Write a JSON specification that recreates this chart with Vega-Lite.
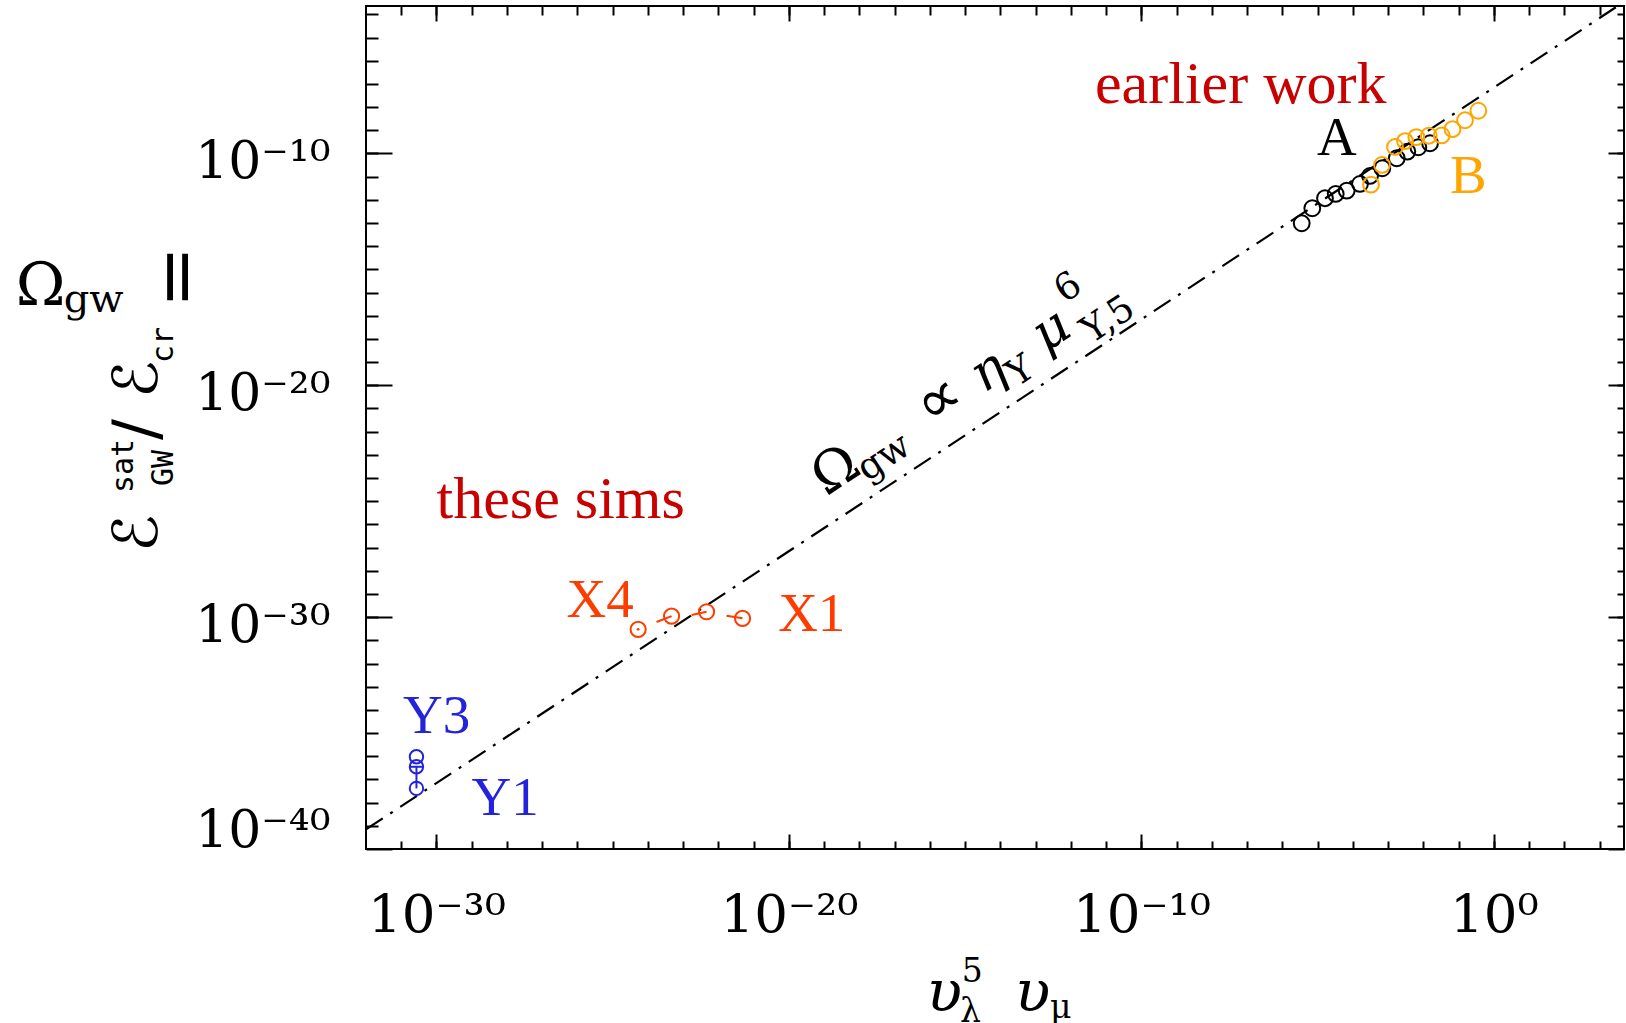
{
  "$schema": "https://vega.github.io/schema/vega-lite/v6.json",
  "width": 1258,
  "height": 843,
  "autosize": {"type": "none"},
  "padding": {"left": 366, "top": 6, "right": 2, "bottom": 174},
  "background": "white",
  "config": {"view": {"stroke": "black", "strokeWidth": 2}},
  "datasets": {
    "line": [{"x": 1e-32, "y": 7.0e-40}, {"x": 4898, "y": 3.43e-4}],
    "A": [
      {"x": 3.52e-6, "y": 9.75e-14}, {"x": 7.03e-6, "y": 4.33e-13}, {"x": 1.61e-5, "y": 1.17e-12},
      {"x": 3.24e-5, "y": 1.79e-12}, {"x": 6.65e-5, "y": 2.48e-12}, {"x": 1.58e-4, "y": 4.83e-12},
      {"x": 3.05e-4, "y": 1.07e-11}, {"x": 6.81e-4, "y": 2.30e-11}, {"x": 1.75e-3, "y": 6.21e-11},
      {"x": 3.49e-3, "y": 1.20e-10}, {"x": 7.16e-3, "y": 1.85e-10}, {"x": 1.54e-2, "y": 2.75e-10}
    ],
    "B": [
      {"x": 3.25e-4, "y": 4.51e-12}, {"x": 6.68e-4, "y": 3.19e-11}, {"x": 1.56e-3, "y": 1.91e-10},
      {"x": 3.01e-3, "y": 3.40e-10}, {"x": 6.28e-3, "y": 5.05e-10}, {"x": 1.42e-2, "y": 5.81e-10},
      {"x": 3.30e-2, "y": 5.98e-10}, {"x": 6.68e-2, "y": 1.12e-9}, {"x": 0.151, "y": 2.70e-9},
      {"x": 0.361, "y": 6.95e-9}
    ],
    "X": [
      {"name": "X4", "x": 5.26e-25, "y": 2.98e-31},
      {"name": "X3", "x": 4.67e-24, "y": 1.11e-30},
      {"name": "X2", "x": 4.59e-23, "y": 1.71e-30},
      {"name": "X1", "x": 4.82e-22, "y": 8.87e-31}
    ],
    "Xseg": [
      {"x": 1.75e-24, "y": 6.15e-31, "x2": 4.67e-24, "y2": 1.11e-30},
      {"x": 1.72e-23, "y": 1.23e-30, "x2": 4.59e-23, "y2": 1.71e-30},
      {"x": 1.69e-22, "y": 1.15e-30, "x2": 4.82e-22, "y2": 8.87e-31}
    ],
    "Y": [
      {"name": "Y3", "x": 2.70e-31, "y": 9.51e-37},
      {"name": "Y2", "x": 2.70e-31, "y": 3.52e-37},
      {"name": "Y1", "x": 2.70e-31, "y": 4.11e-38}
    ],
    "Yseg": [
      {"x": 2.70e-31, "y": 3.52e-37, "x2": 2.70e-31, "y2": 4.11e-38},
      {"x": 1.75e-31, "y": 3.52e-37, "x2": 4.17e-31, "y2": 3.52e-37}
    ],
    "txt": [
      {"t": "earlier work", "x": 4.80e-12, "y": 1.44e-8, "g": "note"},
      {"t": "these sims", "x": 1e-30, "y": 1.83e-26, "g": "note"},
      {"t": "A", "x": 9.55e-6, "y": 8.61e-11, "g": "tag", "c": "A"},
      {"t": "B", "x": 0.0568, "y": 1.92e-12, "g": "tag", "c": "B"},
      {"t": "X4", "x": 4.89e-27, "y": 1.04e-30, "g": "tag", "c": "X"},
      {"t": "X1", "x": 4.93e-21, "y": 2.51e-31, "g": "tag", "c": "X"},
      {"t": "Y3", "x": 1.13e-31, "y": 9.70e-36, "g": "tag", "c": "Y"},
      {"t": "Y1", "x": 9.84e-30, "y": 2.90e-39, "g": "tag", "c": "Y"},
      {"t": "Ω", "x": 1.15e-19, "y": 1.56e-25, "g": "eqBig"},
      {"t": "∝", "x": 1.06e-16, "y": 1.43e-22, "g": "eqSym"},
      {"t": "η", "x": 3.33e-15, "y": 4.43e-21, "g": "eqIt"},
      {"t": "μ", "x": 1.89e-13, "y": 2.50e-19, "g": "eqIt"},
      {"t": "gw", "x": 1.63e-18, "y": 6.73e-25, "g": "eqSmall"},
      {"t": "Y", "x": 2.88e-14, "y": 8.11e-21, "g": "eqSmall"},
      {"t": "6", "x": 6.53e-13, "y": 3.41e-17, "g": "eqSmall"},
      {"t": "Y,5", "x": 3.78e-12, "y": 5.87e-19, "g": "eqSmall"},
      {"t": "Ω", "x": 1.15e-42, "y": 2.91e-17, "g": "ytBig"},
      {"t": "=", "x": 2.05e-37, "y": 2.16e-17, "g": "ytEq"},
      {"t": "gw", "x": 2.65e-41, "y": 1.45e-17, "g": "ytSub"},
      {"t": "ℰ", "x": 1.16e-38, "y": 6.43e-28, "g": "ytE"},
      {"t": "/", "x": 1.16e-38, "y": 4.37e-23, "g": "ytE"},
      {"t": "ℰ", "x": 1.16e-38, "y": 2.83e-21, "g": "ytE"},
      {"t": "sat", "x": 2.41e-39, "y": 2.26e-25, "g": "ytM"},
      {"t": "GW", "x": 3.29e-38, "y": 4.53e-25, "g": "ytM"},
      {"t": "cr", "x": 3.29e-38, "y": 9.16e-20, "g": "ytM"},
      {"t": "υ", "x": 8.04e-17, "y": 1.01e-47, "g": "xtU"},
      {"t": "υ", "x": 2.57e-14, "y": 1.01e-47, "g": "xtU"},
      {"t": "5", "x": 7.91e-16, "y": 1.81e-46, "g": "xtS"},
      {"t": "λ", "x": 7.08e-16, "y": 3.40e-48, "g": "xtS"},
      {"t": "μ", "x": 2.54e-13, "y": 5.06e-48, "g": "xtS"}
    ]
  },
  "resolve": {"axis": {"x": "independent", "y": "independent"}},
  "layer": [
    {
      "data": {"name": "line"},
      "mark": {"type": "line", "color": "black", "strokeWidth": 2.2, "strokeDash": [20, 9, 3, 9], "clip": true},
      "encoding": {
        "x": {"field": "x", "type": "quantitative", "scale": {"type": "log", "domain": [1e-32, 4898], "nice": false},
          "axis": {"orient": "bottom", "values": [1e-30, 1e-20, 1e-10, 1], "tickSize": -15, "tickWidth": 2, "tickColor": "black", "domain": false, "grid": false, "title": null,
            "labelExpr": "datum.value < 1e-25 ? '10⁻³⁰' : datum.value < 1e-15 ? '10⁻²⁰' : datum.value < 1e-5 ? '10⁻¹⁰' : '10⁰'",
            "labelFont": "DejaVu Serif", "labelFontSize": 53, "labelColor": "black", "labelPadding": 55, "labelFlush": false, "labelOverlap": false, "labelBound": false}},
        "y": {"field": "y", "type": "quantitative", "scale": {"type": "log", "domain": [1e-40, 2.29e-4], "nice": false},
          "axis": {"orient": "left", "values": [1e-40, 1e-30, 1e-20, 1e-10], "tickSize": -26, "tickWidth": 2, "tickColor": "black", "domain": false, "grid": false, "title": null,
            "labelExpr": "datum.value < 1e-35 ? '10⁻⁴⁰' : datum.value < 1e-25 ? '10⁻³⁰' : datum.value < 1e-15 ? '10⁻²⁰' : '10⁻¹⁰'",
            "labelFont": "DejaVu Serif", "labelFontSize": 52, "labelColor": "black", "labelPadding": 62, "labelOffset": 8, "labelFlush": true, "labelOverlap": false, "labelBound": false}}
      }
    },
    {
      "data": {"name": "A"},
      "mark": {"type": "point", "shape": "circle", "filled": false, "color": "black", "size": 250, "strokeWidth": 2, "opacity": 1},
      "encoding": {
        "x": {"field": "x", "type": "quantitative", "scale": {"type": "log", "domain": [1e-32, 4898], "nice": false},
          "axis": {"orient": "bottom", "values": [1e-31, 1e-30, 1e-29, 1e-28, 1e-27, 1e-26, 1e-25, 1e-24, 1e-23, 1e-22, 1e-21, 1e-20, 1e-19, 1e-18, 1e-17, 1e-16, 1e-15, 1e-14, 1e-13, 1e-12, 1e-11, 1e-10, 1e-9, 1e-8, 1e-7, 1e-6, 1e-5, 1e-4, 0.001, 0.01, 0.1, 1, 10, 100, 1000],
            "tickSize": -8, "tickWidth": 2, "tickColor": "black", "labels": false, "domain": false, "grid": false, "title": null}},
        "y": {"field": "y", "type": "quantitative", "scale": {"type": "log", "domain": [1e-40, 2.29e-4], "nice": false},
          "axis": {"orient": "left", "values": [1e-39, 1e-38, 1e-37, 1e-36, 1e-35, 1e-34, 1e-33, 1e-32, 1e-31, 1e-30, 1e-29, 1e-28, 1e-27, 1e-26, 1e-25, 1e-24, 1e-23, 1e-22, 1e-21, 1e-20, 1e-19, 1e-18, 1e-17, 1e-16, 1e-15, 1e-14, 1e-13, 1e-12, 1e-11, 1e-10, 1e-9, 1e-8, 1e-7, 1e-6, 1e-5, 1e-4],
            "tickSize": -12, "tickWidth": 2, "tickColor": "black", "labels": false, "domain": false, "grid": false, "title": null}}
      }
    },
    {
      "data": {"name": "B"},
      "mark": {"type": "point", "shape": "circle", "filled": false, "color": "#ffa500", "size": 250, "strokeWidth": 2, "opacity": 1},
      "encoding": {
        "x": {"field": "x", "type": "quantitative", "scale": {"type": "log", "domain": [1e-32, 4898], "nice": false},
          "axis": {"orient": "top", "values": [1e-30, 1e-20, 1e-10, 1], "tickSize": -15, "tickWidth": 2, "tickColor": "black", "labels": false, "domain": false, "grid": false, "title": null}},
        "y": {"field": "y", "type": "quantitative", "scale": {"type": "log", "domain": [1e-40, 2.29e-4], "nice": false},
          "axis": {"orient": "right", "values": [1e-40, 1e-30, 1e-20, 1e-10], "tickSize": -16, "tickWidth": 2, "tickColor": "black", "labels": false, "domain": false, "grid": false, "title": null}}
      }
    },
    {
      "data": {"name": "X"},
      "mark": {"type": "point", "shape": "circle", "filled": false, "color": "#ff3c00", "size": 230, "strokeWidth": 2, "opacity": 1},
      "encoding": {
        "x": {"field": "x", "type": "quantitative", "scale": {"type": "log", "domain": [1e-32, 4898], "nice": false},
          "axis": {"orient": "top", "values": [1e-31, 1e-30, 1e-29, 1e-28, 1e-27, 1e-26, 1e-25, 1e-24, 1e-23, 1e-22, 1e-21, 1e-20, 1e-19, 1e-18, 1e-17, 1e-16, 1e-15, 1e-14, 1e-13, 1e-12, 1e-11, 1e-10, 1e-9, 1e-8, 1e-7, 1e-6, 1e-5, 1e-4, 0.001, 0.01, 0.1, 1, 10, 100, 1000],
            "tickSize": -9, "tickWidth": 2, "tickColor": "black", "labels": false, "domain": false, "grid": false, "title": null}},
        "y": {"field": "y", "type": "quantitative", "scale": {"type": "log", "domain": [1e-40, 2.29e-4], "nice": false},
          "axis": {"orient": "right", "values": [1e-39, 1e-38, 1e-37, 1e-36, 1e-35, 1e-34, 1e-33, 1e-32, 1e-31, 1e-30, 1e-29, 1e-28, 1e-27, 1e-26, 1e-25, 1e-24, 1e-23, 1e-22, 1e-21, 1e-20, 1e-19, 1e-18, 1e-17, 1e-16, 1e-15, 1e-14, 1e-13, 1e-12, 1e-11, 1e-10, 1e-9, 1e-8, 1e-7, 1e-6, 1e-5, 1e-4],
            "tickSize": -7, "tickWidth": 2, "tickColor": "black", "labels": false, "domain": false, "grid": false, "title": null}}
      }
    },
    {
      "data": {"name": "X"},
      "transform": [{"filter": "datum.name === 'X4'"}],
      "mark": {"type": "point", "shape": "circle", "filled": true, "color": "#ff3c00", "size": 8, "opacity": 1},
      "encoding": {
        "x": {"field": "x", "type": "quantitative", "scale": {"type": "log", "domain": [1e-32, 4898], "nice": false}, "axis": null},
        "y": {"field": "y", "type": "quantitative", "scale": {"type": "log", "domain": [1e-40, 2.29e-4], "nice": false}, "axis": null}
      }
    },
    {
      "data": {"name": "Xseg"},
      "mark": {"type": "rule", "color": "#ff3c00", "strokeWidth": 2},
      "encoding": {
        "x": {"field": "x", "type": "quantitative", "scale": {"type": "log", "domain": [1e-32, 4898], "nice": false}, "axis": null},
        "y": {"field": "y", "type": "quantitative", "scale": {"type": "log", "domain": [1e-40, 2.29e-4], "nice": false}, "axis": null},
        "x2": {"field": "x2"},
        "y2": {"field": "y2"}
      }
    },
    {
      "data": {"name": "Y"},
      "mark": {"type": "point", "shape": "circle", "filled": false, "color": "#2323dc", "size": 180, "strokeWidth": 2, "opacity": 1},
      "encoding": {
        "x": {"field": "x", "type": "quantitative", "scale": {"type": "log", "domain": [1e-32, 4898], "nice": false}, "axis": null},
        "y": {"field": "y", "type": "quantitative", "scale": {"type": "log", "domain": [1e-40, 2.29e-4], "nice": false}, "axis": null}
      }
    },
    {
      "data": {"name": "Yseg"},
      "mark": {"type": "rule", "color": "#2323dc", "strokeWidth": 2},
      "encoding": {
        "x": {"field": "x", "type": "quantitative", "scale": {"type": "log", "domain": [1e-32, 4898], "nice": false}, "axis": null},
        "y": {"field": "y", "type": "quantitative", "scale": {"type": "log", "domain": [1e-40, 2.29e-4], "nice": false}, "axis": null},
        "x2": {"field": "x2"},
        "y2": {"field": "y2"}
      }
    },
    {
      "data": {"name": "txt"},
      "transform": [{"filter": "datum.g === 'note'"}],
      "mark": {"type": "text", "align": "left", "baseline": "alphabetic", "font": "Liberation Serif", "fontSize": 60, "color": "#c80000"},
      "encoding": {
        "x": {"field": "x", "type": "quantitative", "scale": {"type": "log", "domain": [1e-32, 4898], "nice": false}, "axis": null},
        "y": {"field": "y", "type": "quantitative", "scale": {"type": "log", "domain": [1e-40, 2.29e-4], "nice": false}, "axis": null},
        "text": {"field": "t"}
      }
    },
    {
      "data": {"name": "txt"},
      "transform": [{"filter": "datum.g === 'tag'"}],
      "mark": {"type": "text", "align": "left", "baseline": "alphabetic", "font": "Liberation Serif", "fontSize": 55},
      "encoding": {
        "x": {"field": "x", "type": "quantitative", "scale": {"type": "log", "domain": [1e-32, 4898], "nice": false}, "axis": null},
        "y": {"field": "y", "type": "quantitative", "scale": {"type": "log", "domain": [1e-40, 2.29e-4], "nice": false}, "axis": null},
        "text": {"field": "t"},
        "color": {"field": "c", "type": "nominal", "scale": {"domain": ["A", "B", "X", "Y"], "range": ["#000000", "#ffa500", "#ff3c00", "#2323dc"]}, "legend": null}
      }
    },
    {
      "data": {"name": "txt"},
      "transform": [{"filter": "datum.g === 'eqBig'"}],
      "mark": {"type": "text", "align": "left", "baseline": "alphabetic", "font": "DejaVu Serif", "fontSize": 54, "angle": 326.7, "color": "black"},
      "encoding": {
        "x": {"field": "x", "type": "quantitative", "scale": {"type": "log", "domain": [1e-32, 4898], "nice": false}, "axis": null},
        "y": {"field": "y", "type": "quantitative", "scale": {"type": "log", "domain": [1e-40, 2.29e-4], "nice": false}, "axis": null},
        "text": {"field": "t"}
      }
    },
    {
      "data": {"name": "txt"},
      "transform": [{"filter": "datum.g === 'eqSym'"}],
      "mark": {"type": "text", "align": "left", "baseline": "alphabetic", "font": "DejaVu Sans", "fontSize": 62, "angle": 326.7, "color": "black"},
      "encoding": {
        "x": {"field": "x", "type": "quantitative", "scale": {"type": "log", "domain": [1e-32, 4898], "nice": false}, "axis": null},
        "y": {"field": "y", "type": "quantitative", "scale": {"type": "log", "domain": [1e-40, 2.29e-4], "nice": false}, "axis": null},
        "text": {"field": "t"}
      }
    },
    {
      "data": {"name": "txt"},
      "transform": [{"filter": "datum.g === 'eqIt'"}],
      "mark": {"type": "text", "align": "left", "baseline": "alphabetic", "font": "DejaVu Serif", "fontStyle": "italic", "fontSize": 52, "angle": 326.7, "color": "black"},
      "encoding": {
        "x": {"field": "x", "type": "quantitative", "scale": {"type": "log", "domain": [1e-32, 4898], "nice": false}, "axis": null},
        "y": {"field": "y", "type": "quantitative", "scale": {"type": "log", "domain": [1e-40, 2.29e-4], "nice": false}, "axis": null},
        "text": {"field": "t"}
      }
    },
    {
      "data": {"name": "txt"},
      "transform": [{"filter": "datum.g === 'eqSmall'"}],
      "mark": {"type": "text", "align": "left", "baseline": "alphabetic", "font": "DejaVu Serif", "fontSize": 37, "angle": 326.7, "color": "black"},
      "encoding": {
        "x": {"field": "x", "type": "quantitative", "scale": {"type": "log", "domain": [1e-32, 4898], "nice": false}, "axis": null},
        "y": {"field": "y", "type": "quantitative", "scale": {"type": "log", "domain": [1e-40, 2.29e-4], "nice": false}, "axis": null},
        "text": {"field": "t"}
      }
    },
    {
      "data": {"name": "txt"},
      "transform": [{"filter": "datum.g === 'ytBig'"}],
      "mark": {"type": "text", "align": "left", "baseline": "alphabetic", "font": "DejaVu Serif", "fontSize": 60, "color": "black"},
      "encoding": {
        "x": {"field": "x", "type": "quantitative", "scale": {"type": "log", "domain": [1e-32, 4898], "nice": false}, "axis": null},
        "y": {"field": "y", "type": "quantitative", "scale": {"type": "log", "domain": [1e-40, 2.29e-4], "nice": false}, "axis": null},
        "text": {"field": "t"}
      }
    },
    {
      "data": {"name": "txt"},
      "transform": [{"filter": "datum.g === 'ytEq'"}],
      "mark": {"type": "text", "align": "left", "baseline": "alphabetic", "font": "DejaVu Serif", "fontSize": 74, "angle": 270, "color": "black"},
      "encoding": {
        "x": {"field": "x", "type": "quantitative", "scale": {"type": "log", "domain": [1e-32, 4898], "nice": false}, "axis": null},
        "y": {"field": "y", "type": "quantitative", "scale": {"type": "log", "domain": [1e-40, 2.29e-4], "nice": false}, "axis": null},
        "text": {"field": "t"}
      }
    },
    {
      "data": {"name": "txt"},
      "transform": [{"filter": "datum.g === 'ytSub'"}],
      "mark": {"type": "text", "align": "left", "baseline": "alphabetic", "font": "DejaVu Serif", "fontSize": 40, "color": "black"},
      "encoding": {
        "x": {"field": "x", "type": "quantitative", "scale": {"type": "log", "domain": [1e-32, 4898], "nice": false}, "axis": null},
        "y": {"field": "y", "type": "quantitative", "scale": {"type": "log", "domain": [1e-40, 2.29e-4], "nice": false}, "axis": null},
        "text": {"field": "t"}
      }
    },
    {
      "data": {"name": "txt"},
      "transform": [{"filter": "datum.g === 'ytE'"}],
      "mark": {"type": "text", "align": "left", "baseline": "alphabetic", "font": "DejaVu Sans", "fontSize": 62, "angle": 270, "color": "black"},
      "encoding": {
        "x": {"field": "x", "type": "quantitative", "scale": {"type": "log", "domain": [1e-32, 4898], "nice": false}, "axis": null},
        "y": {"field": "y", "type": "quantitative", "scale": {"type": "log", "domain": [1e-40, 2.29e-4], "nice": false}, "axis": null},
        "text": {"field": "t"}
      }
    },
    {
      "data": {"name": "txt"},
      "transform": [{"filter": "datum.g === 'ytM'"}],
      "mark": {"type": "text", "align": "left", "baseline": "alphabetic", "font": "DejaVu Sans Mono", "fontSize": 30, "angle": 270, "color": "black"},
      "encoding": {
        "x": {"field": "x", "type": "quantitative", "scale": {"type": "log", "domain": [1e-32, 4898], "nice": false}, "axis": null},
        "y": {"field": "y", "type": "quantitative", "scale": {"type": "log", "domain": [1e-40, 2.29e-4], "nice": false}, "axis": null},
        "text": {"field": "t"}
      }
    },
    {
      "data": {"name": "txt"},
      "transform": [{"filter": "datum.g === 'xtU'"}],
      "mark": {"type": "text", "align": "left", "baseline": "alphabetic", "font": "DejaVu Serif", "fontStyle": "italic", "fontSize": 58, "color": "black"},
      "encoding": {
        "x": {"field": "x", "type": "quantitative", "scale": {"type": "log", "domain": [1e-32, 4898], "nice": false}, "axis": null},
        "y": {"field": "y", "type": "quantitative", "scale": {"type": "log", "domain": [1e-40, 2.29e-4], "nice": false}, "axis": null},
        "text": {"field": "t"}
      }
    },
    {
      "data": {"name": "txt"},
      "transform": [{"filter": "datum.g === 'xtS'"}],
      "mark": {"type": "text", "align": "left", "baseline": "alphabetic", "font": "DejaVu Serif", "fontSize": 33, "color": "black"},
      "encoding": {
        "x": {"field": "x", "type": "quantitative", "scale": {"type": "log", "domain": [1e-32, 4898], "nice": false}, "axis": null},
        "y": {"field": "y", "type": "quantitative", "scale": {"type": "log", "domain": [1e-40, 2.29e-4], "nice": false}, "axis": null},
        "text": {"field": "t"}
      }
    }
  ]
}
